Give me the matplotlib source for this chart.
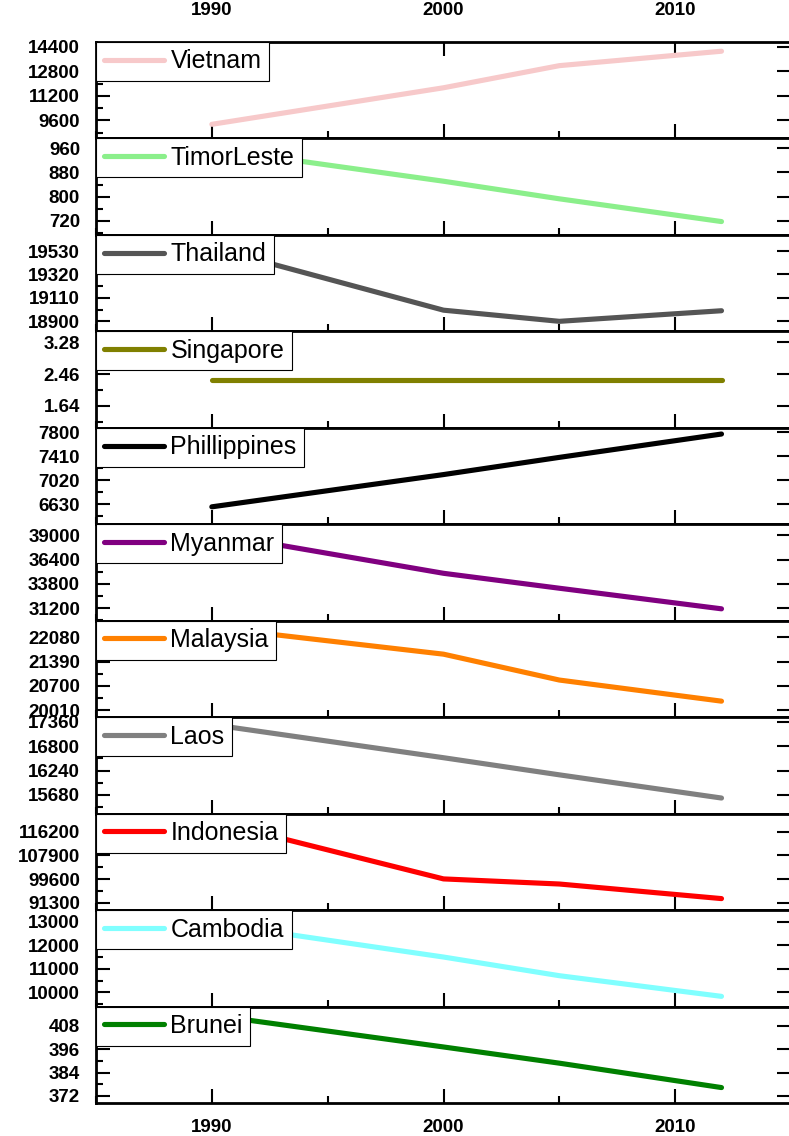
import numpy as np
import matplotlib
matplotlib.use('Agg')
import matplotlib.pyplot as plt
from matplotlib.ticker import FixedLocator, MultipleLocator, AutoMinorLocator

plt.rcParams['font.family'] = ['Liberation Sans', 'DejaVu Sans']

# data
years = [1990, 2000, 2005, 2012]

countries = ['Vietnam', 'TimorLeste', 'Thailand', 'Singapore', 'Phillippines',
             'Myanmar', 'Malaysia', 'Laos', 'Indonesia', 'Cambodia', 'Brunei']

vietnam     = [9350, 11730, 13170, 14110]
timorleste  = [958, 851, 793, 718]
thailand    = [19560, 19000, 18900, 18995]
singapore   = [2.3, 2.3, 2.3, 2.3]
phillippines = [6590, 7115, 7395, 7775]
myanmar     = [39200, 34930, 33330, 31125]
malaysia    = [22360, 21600, 20865, 20265]
laos        = [17300, 16535, 16140, 15605]
indonesia   = [120000, 99640, 97850, 92730]
cambodia    = [12930, 11500, 10710, 9835]
brunei      = [413.4, 397.1, 388.8, 376.3]

series = [vietnam, timorleste, thailand, singapore, phillippines, myanmar,
          malaysia, laos, indonesia, cambodia, brunei]

ytick_labels = [
    ['14400', '12800', '11200', '9600'],
    ['960', '880', '800', '720'],
    ['19530', '19320', '19110', '18900'],
    ['3.28', '2.46', '1.64'],
    ['7800', '7410', '7020', '6630'],
    ['39000', '36400', '33800', '31200'],
    ['22080', '21390', '20700', '20010'],
    ['17360', '16800', '16240', '15680'],
    ['116200', '107900', '99600', '91300'],
    ['13000', '12000', '11000', '10000'],
    ['408', '396', '384', '372'],
]

ylims = [(8430, 14710), (674, 992), (18810, 19675), (1.076, 3.56),
         (6306, 7876), (29850, 40180), (19810, 22550), (15245, 17470),
         (88700, 122540), (9404, 13487), (368.4, 417.8)]

colors = ['#F7C9CA', '#8BEF8B', '#555555', '#808000', '#000000', '#800080',
          '#FF8000', '#808080', '#FF0000', '#80FFFF', '#008000']

W, H = 789, 1136
fig = plt.figure(figsize=(W / 100, H / 100), dpi=100)

top_px, bot_px = 42, 1103
left_px, right_px = 96, 791
n = len(countries)
ph = (bot_px - top_px) / n

tickfont = dict(fontsize=13.5, fontweight='bold')

for i, name in enumerate(countries):
    y0 = top_px + i * ph
    ax = fig.add_axes([left_px / W, 1 - (y0 + ph) / H,
                       (right_px - left_px) / W, ph / H])
    ax.plot(years, series[i], color=colors[i], lw=3.7,
            solid_capstyle='round', solid_joinstyle='round', label=name)
    ax.set_xlim(1985, 2015)
    ax.set_ylim(*ylims[i])

    vals = [float(v) for v in ytick_labels[i]]
    ax.yaxis.set_major_locator(FixedLocator(vals))
    ax.set_yticklabels(ytick_labels[i], **tickfont)
    ax.yaxis.set_minor_locator(AutoMinorLocator(2))

    ax.xaxis.set_major_locator(FixedLocator([1990, 2000, 2010]))
    ax.xaxis.set_minor_locator(MultipleLocator(5))

    first, last = (i == 0), (i == n - 1)
    ax.tick_params(axis='both', which='both', direction='in', width=1.5)
    ax.tick_params(axis='both', which='major', length=10)
    ax.tick_params(axis='both', which='minor', length=5)
    ax.tick_params(axis='y', left=True, right=True, labelleft=True,
                   labelright=False, pad=11.5)
    ax.tick_params(axis='x', bottom=True, top=first,
                   labelbottom=last, labeltop=first)
    if first:
        ax.tick_params(axis='x', pad=16.5)
        for t in ax.get_xticklabels():
            t.set_fontsize(13.5)
            t.set_fontweight('bold')
    if last:
        ax.tick_params(axis='x', pad=11.5)
        for t in ax.get_xticklabels():
            t.set_fontsize(13.5)
            t.set_fontweight('bold')

    for sp in ax.spines.values():
        sp.set_linewidth(2.0)

    leg = ax.legend(loc='upper left', bbox_to_anchor=(0, 1), borderaxespad=0,
                    fontsize=18, frameon=True, fancybox=False, framealpha=1,
                    edgecolor='black', handlelength=2.4, handletextpad=0.28,
                    borderpad=0.3)
    leg.get_frame().set_linewidth(0.8)
    leg.legend_handles[0].set_linewidth(3.7)

fig.savefig('out.png', dpi=100)
